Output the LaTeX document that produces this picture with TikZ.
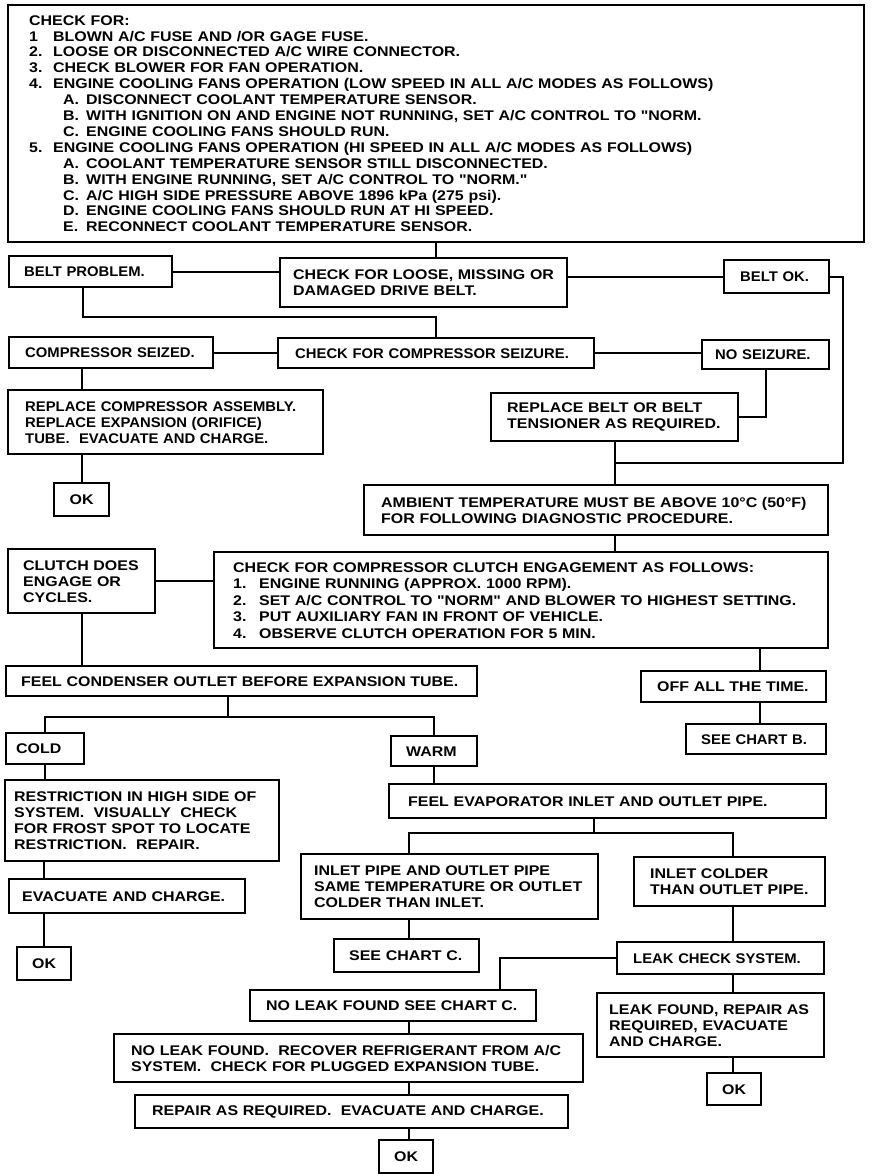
\documentclass[tikz,border=0pt]{standalone}
\usepackage{fontspec}
\newfontfamily\chartfont{Liberation Sans}[FakeStretch=1.14]
\newfontfamily\chartfontn{Liberation Sans}[FakeStretch=1.06]
\frenchspacing
\begin{document}
\begin{tikzpicture}[x=1pt,y=-1pt,
  box/.style={draw, line width=2.4pt, align=left, anchor=north west, inner ysep=1pt,
    font=\chartfont\bfseries\fontsize{14}{16}\selectfont},
  sbox/.style={box, font=\chartfontn\bfseries\fontsize{14}{16}\selectfont},
  okbox/.style={draw, line width=2.4pt, align=center, anchor=north west, inner sep=0pt,
    font=\chartfont\bfseries\fontsize{14}{16}\selectfont},
  conn/.style={line width=1.8pt, line join=miter}]
\useasboundingbox (0,0) rectangle (880,1174);
\fill[white] (0,0) rectangle (880,1174);

% nodes
\node[box, minimum width=856pt, minimum height=237pt, inner xsep=21pt, text width=814pt,
  font=\chartfont\bfseries\fontsize{14}{15.9}\selectfont] (top) at (7,4) {%
CHECK FOR:\\
\makebox[24pt][l]{1}BLOWN A/C FUSE AND /OR GAGE FUSE.\\
\makebox[24pt][l]{2.}LOOSE OR DISCONNECTED A/C WIRE CONNECTOR.\\
\makebox[24pt][l]{3.}CHECK BLOWER FOR FAN OPERATION.\\
\makebox[24pt][l]{4.}ENGINE COOLING FANS OPERATION (LOW SPEED IN ALL A/C MODES AS FOLLOWS)\\
\hspace*{34pt}\makebox[23pt][l]{A.}DISCONNECT COOLANT TEMPERATURE SENSOR.\\
\hspace*{34pt}\makebox[23pt][l]{B.}WITH IGNITION ON AND ENGINE NOT RUNNING, SET A/C CONTROL TO "NORM.\\
\hspace*{34pt}\makebox[23pt][l]{C.}ENGINE COOLING FANS SHOULD RUN.\\
\makebox[24pt][l]{5.}ENGINE COOLING FANS OPERATION (HI SPEED IN ALL A/C MODES AS FOLLOWS)\\
\hspace*{34pt}\makebox[23pt][l]{A.}COOLANT TEMPERATURE SENSOR STILL DISCONNECTED.\\
\hspace*{34pt}\makebox[23pt][l]{B.}WITH ENGINE RUNNING, SET A/C CONTROL TO "NORM."\\
\hspace*{34pt}\makebox[23pt][l]{C.}A/C HIGH SIDE PRESSURE ABOVE 1896 kPa (275 psi).\\
\hspace*{34pt}\makebox[23pt][l]{D.}ENGINE COOLING FANS SHOULD RUN AT HI SPEED.\\
\hspace*{34pt}\makebox[23pt][l]{E.}RECONNECT COOLANT TEMPERATURE SENSOR.};

\node[sbox, minimum width=163pt, minimum height=31pt, inner xsep=15pt, text width=133pt] (beltprob) at (8,255) {BELT PROBLEM.};
\node[box, minimum width=287pt, minimum height=49pt, inner xsep=13pt, text width=261pt] (chkbelt) at (279,257) {CHECK FOR LOOSE, MISSING OR\\DAMAGED DRIVE BELT.};
\node[sbox, minimum width=105pt, minimum height=33pt, inner xsep=16pt, text width=73pt] (beltok) at (723,259) {BELT OK.};
\node[sbox, minimum width=204pt, minimum height=31pt, inner xsep=16pt, text width=172pt] (compseized) at (8,336) {COMPRESSOR SEIZED.};
\node[sbox, minimum width=316pt, minimum height=30pt, inner xsep=17pt, text width=282pt] (chkcomp) at (277,337) {CHECK FOR COMPRESSOR SEIZURE.};
\node[sbox, minimum width=127pt, minimum height=29pt, inner xsep=13pt, text width=101pt] (noseize) at (701,339) {NO SEIZURE.};
\node[sbox, minimum width=315pt, minimum height=64pt, inner xsep=17pt, text width=281pt] (replcomp) at (7,389) {REPLACE COMPRESSOR ASSEMBLY.\\REPLACE EXPANSION (ORIFICE)\\TUBE.\ \ EVACUATE AND CHARGE.};
\node[okbox, minimum width=55pt, minimum height=33pt] (ok1) at (53,482) {OK};
\node[box, minimum width=247pt, minimum height=48pt, inner xsep=16pt, text width=215pt] (replbelt) at (490,392) {REPLACE BELT OR BELT\\TENSIONER AS REQUIRED.};
\node[box, minimum width=464pt, minimum height=50pt, inner xsep=17pt, text width=430pt] (ambient) at (363,484) {AMBIENT TEMPERATURE MUST BE ABOVE 10°C (50°F)\\FOR FOLLOWING DIAGNOSTIC PROCEDURE.};
\node[box, minimum width=147pt, minimum height=64pt, inner xsep=15pt, text width=117pt] (clutch) at (7,548) {CLUTCH DOES\\ENGAGE OR\\CYCLES.};
\node[box, minimum width=614pt, minimum height=96pt, inner xsep=19pt, text width=576pt,
  font=\chartfont\bfseries\fontsize{14}{16.5}\selectfont] (chkclutch) at (213,551) {%
CHECK FOR COMPRESSOR CLUTCH ENGAGEMENT AS FOLLOWS:\\
\makebox[26pt][l]{1.}ENGINE RUNNING (APPROX. 1000 RPM).\\
\makebox[26pt][l]{2.}SET A/C CONTROL TO "NORM" AND BLOWER TO HIGHEST SETTING.\\
\makebox[26pt][l]{3.}PUT AUXILIARY FAN IN FRONT OF VEHICLE.\\
\makebox[26pt][l]{4.}OBSERVE CLUTCH OPERATION FOR 5 MIN.};
\node[box, minimum width=471pt, minimum height=30pt, inner xsep=15pt, text width=441pt] (feelcond) at (5,665) {FEEL CONDENSER OUTLET BEFORE EXPANSION TUBE.};
\node[box, minimum width=185pt, minimum height=31pt, inner xsep=16pt, text width=153pt] (offall) at (640,670) {OFF ALL THE TIME.};
\node[sbox, minimum width=140pt, minimum height=30pt, inner xsep=15pt, text width=110pt] (chartB) at (685,723) {SEE CHART B.};
\node[box, minimum width=78pt, minimum height=31pt, inner xsep=10pt, text width=58pt] (cold) at (5,732) {COLD};
\node[box, minimum width=86pt, minimum height=30pt, inner xsep=15pt, text width=56pt] (warm) at (390,735) {WARM};
\node[box, minimum width=274pt, minimum height=81pt, inner xsep=9pt, text width=256pt] (restrict) at (4,779) {RESTRICTION IN HIGH SIDE OF\\SYSTEM.\ \ VISUALLY\ \ CHECK\\FOR FROST SPOT TO LOCATE\\RESTRICTION.\ \ REPAIR.};
\node[box, minimum width=437pt, minimum height=34pt, inner xsep=19pt, text width=399pt] (feelevap) at (388,783) {FEEL EVAPORATOR INLET AND OUTLET PIPE.};
\node[box, minimum width=236pt, minimum height=34pt, inner xsep=13pt, text width=210pt] (evac) at (8,878) {EVACUATE AND CHARGE.};
\node[okbox, minimum width=54pt, minimum height=33pt] (ok2) at (16,946) {OK};
\node[box, minimum width=297pt, minimum height=65pt, inner xsep=13pt, text width=271pt] (inletpipe) at (300,853) {INLET PIPE AND OUTLET PIPE\\SAME TEMPERATURE OR OUTLET\\COLDER THAN INLET.};
\node[box, minimum width=191pt, minimum height=49pt, inner xsep=16pt, text width=159pt] (inletcold) at (633,856) {INLET COLDER\\THAN OUTLET PIPE.};
\node[box, minimum width=145pt, minimum height=33pt, inner xsep=15pt, text width=115pt] (chartC) at (333,938) {SEE CHART C.};
\node[sbox, minimum width=207pt, minimum height=32pt, inner xsep=16pt, text width=175pt] (leakchk) at (616,941) {LEAK CHECK SYSTEM.};
\node[box, minimum width=286pt, minimum height=31pt, inner xsep=16pt, text width=254pt] (noleakC) at (249,989) {NO LEAK FOUND SEE CHART C.};
\node[box, minimum width=227pt, minimum height=64pt, inner xsep=12pt, text width=203pt] (leakfound) at (596,992) {LEAK FOUND, REPAIR AS\\REQUIRED, EVACUATE\\AND CHARGE.};
\node[box, minimum width=469pt, minimum height=48pt, inner xsep=17pt, text width=435pt] (noleakrec) at (113,1033) {NO LEAK FOUND.\ \ RECOVER REFRIGERANT FROM A/C\\SYSTEM.\ \ CHECK FOR PLUGGED EXPANSION TUBE.};
\node[okbox, minimum width=54pt, minimum height=32pt] (ok3) at (706,1072) {OK};
\node[box, minimum width=433pt, minimum height=33pt, inner xsep=17pt, text width=399pt] (repair) at (134,1094) {REPAIR AS REQUIRED.\ \ EVACUATE AND CHARGE.};
\node[okbox, minimum width=54pt, minimum height=33pt] (ok4) at (378,1139) {OK};

% helper coordinates
\coordinate (xA) at (436,0);
\coordinate (jR) at (843,463);
\coordinate (jBP) at (83,317);
\coordinate (xCS) at (82,0);
\coordinate (x760) at (760,0);
\coordinate (jFC) at (228,717);
\coordinate (jFE) at (594,833);
\coordinate (xIP) at (409,0);
\coordinate (xIC) at (733,0);
\coordinate (x500) at (500,0);

% connectors
\draw[conn] (top.south -| xA) -- (chkbelt.north -| xA);
\draw[conn] (beltprob.east) -- (beltprob.east -| chkbelt.west);
\draw[conn] (chkbelt.east |- beltok.west) -- (beltok.west);
\draw[conn] (beltok.east) -| (jR) -- (jR -| replbelt.south);
\draw[conn] (beltprob.south -| jBP) -- (jBP) -| (chkcomp.north);
\draw[conn] (compseized.east) -- (compseized.east -| chkcomp.west);
\draw[conn] (chkcomp.east) -- (chkcomp.east -| noseize.west);
\draw[conn] (noseize.south) |- (replbelt.east);
\draw[conn] (compseized.south -| xCS) -- (replcomp.north -| xCS);
\draw[conn] (replcomp.south -| ok1.north) -- (ok1.north);
\draw[conn] (replbelt.south) -- (replbelt.south |- ambient.north);
\draw[conn] (ambient.south -| replbelt.south) -- (chkclutch.north -| replbelt.south);
\draw[conn] (clutch.east) -- (clutch.east -| chkclutch.west);
\draw[conn] (clutch.south) -- (clutch.south |- feelcond.north);
\draw[conn] (chkclutch.south -| x760) -- (offall.north -| x760);
\draw[conn] (offall.south -| x760) -- (chartB.north -| x760);
\draw[conn] (feelcond.south -| jFC) -- (jFC);
\draw[conn] (cold.north) |- (jFC) -| (warm.north);
\draw[conn] (cold.south) -- (cold.south |- restrict.north);
\draw[conn] (restrict.south -| ok2.north) -- (evac.north -| ok2.north);
\draw[conn] (evac.south -| ok2.north) -- (ok2.north);
\draw[conn] (warm.south) -- (warm.south |- feelevap.north);
\draw[conn] (feelevap.south -| jFE) -- (jFE);
\draw[conn] (inletpipe.north -| xIP) |- (jFE) -| (inletcold.north -| xIC);
\draw[conn] (inletpipe.south -| xIP) -- (chartC.north -| xIP);
\draw[conn] (inletcold.south -| xIC) -- (leakchk.north -| xIC);
\draw[conn] (leakchk.south -| xIC) -- (leakfound.north -| xIC);
\draw[conn] (leakfound.south -| xIC) -- (ok3.north -| xIC);
\draw[conn] (leakchk.west) -| (noleakC.north -| x500);
\draw[conn] (noleakC.south -| xIP) -- (noleakrec.north -| xIP);
\draw[conn] (noleakrec.south -| xIP) -- (repair.north -| xIP);
\draw[conn] (repair.south -| xIP) -- (ok4.north -| xIP);
\end{tikzpicture}
\end{document}
